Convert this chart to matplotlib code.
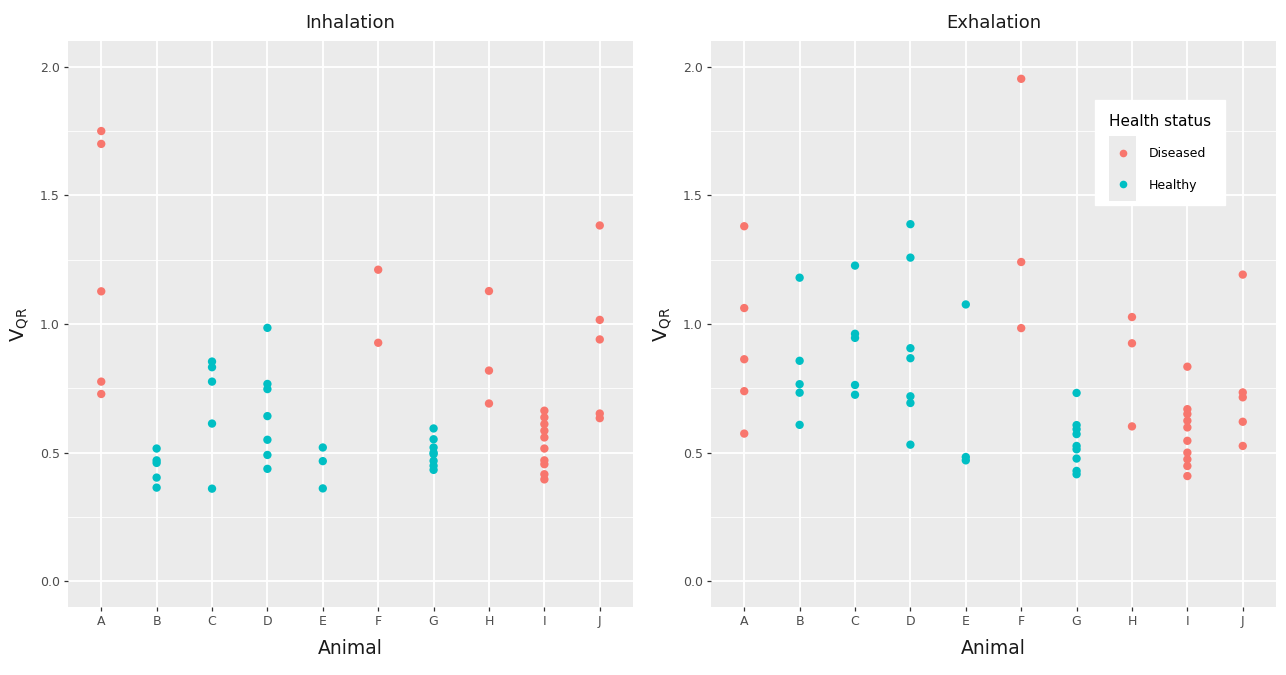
import matplotlib
matplotlib.use('Agg')
import matplotlib.pyplot as plt
from matplotlib.legend_handler import HandlerBase
from matplotlib.patches import Rectangle
from matplotlib.lines import Line2D
import numpy as np

# animals and their health status
animals = ['A', 'B', 'C', 'D', 'E', 'F', 'G', 'H', 'I', 'J']
status = ['Diseased', 'Healthy', 'Healthy', 'Healthy', 'Healthy',
          'Diseased', 'Healthy', 'Diseased', 'Diseased', 'Diseased']

# V_QR values read per animal, inhalation
inhal_values = [
    [1.75, 1.70, 1.127, 0.776, 0.728],
    [0.516, 0.47, 0.46, 0.403, 0.364],
    [0.854, 0.832, 0.776, 0.613, 0.36],
    [0.985, 0.767, 0.747, 0.642, 0.55, 0.491, 0.437],
    [0.52, 0.467, 0.361],
    [1.211, 0.927],
    [0.594, 0.552, 0.52, 0.50, 0.494, 0.468, 0.449, 0.433],
    [1.128, 0.819, 0.691],
    [0.663, 0.637, 0.611, 0.585, 0.559, 0.516, 0.47, 0.455, 0.416, 0.396],
    [1.383, 1.016, 0.94, 0.652, 0.634],
]

# exhalation
exhal_values = [
    [1.38, 1.062, 0.863, 0.739, 0.574],
    [1.18, 0.857, 0.766, 0.733, 0.608],
    [1.227, 0.962, 0.946, 0.763, 0.725],
    [1.388, 1.258, 0.906, 0.867, 0.719, 0.693, 0.531],
    [1.076, 0.483, 0.47],
    [1.953, 1.241, 0.984],
    [0.732, 0.607, 0.591, 0.572, 0.526, 0.513, 0.477, 0.429, 0.416],
    [1.027, 0.925, 0.602],
    [0.834, 0.669, 0.65, 0.624, 0.598, 0.546, 0.50, 0.474, 0.448, 0.409],
    [1.192, 0.734, 0.715, 0.62, 0.526],
]

colors = {'Diseased': '#F8766D', 'Healthy': '#00BFC4'}

W, H = 1286, 675
fig = plt.figure(figsize=(W / 100, H / 100), dpi=100)
fig.patch.set_facecolor('white')


class KeyHandler(HandlerBase):
    # ggplot-like key: grey square with a dot in the middle
    def create_artists(self, legend, orig_handle, xdescent, ydescent,
                       width, height, fontsize, trans):
        cx = width / 2 - xdescent
        cy = height / 2 - ydescent
        bh = height + legend.labelspacing * fontsize + 2
        bg = Rectangle((cx - width / 2, cy - bh / 2), width, bh,
                       facecolor='#EBEBEB', edgecolor='none', transform=trans)
        dot = Line2D([cx], [cy], marker='o', linestyle='none', markersize=5.5,
                     markerfacecolor=orig_handle.get_facecolor()[0],
                     markeredgecolor='none', transform=trans)
        return [bg, dot]


def px_axes(left, top, width, height):
    return fig.add_axes([left / W, (H - top - height) / H, width / W, height / H])


def draw_panel(ax, values, title):
    ax.set_facecolor('#EBEBEB')
    x = np.arange(1, len(animals) + 1)
    handles = []
    for grp in ['Diseased', 'Healthy']:
        xs, ys = [], []
        for i, vals in enumerate(values):
            if status[i] == grp:
                xs += [x[i]] * len(vals)
                ys += vals
        handles.append(ax.scatter(xs, ys, s=36, color=colors[grp],
                                  edgecolors='none', label=grp, zorder=3))
    ax.set_xlim(0.4, 10.6)
    ax.set_ylim(-0.1, 2.1)
    ax.set_xticks(x)
    ax.set_xticklabels(animals)
    ax.set_yticks([0.0, 0.5, 1.0, 1.5, 2.0])
    ax.set_yticklabels(['0.0', '0.5', '1.0', '1.5', '2.0'])
    ax.set_yticks([0.25, 0.75, 1.25, 1.75], minor=True)
    ax.grid(which='major', color='white', linewidth=1.3, zorder=0)
    ax.grid(which='minor', axis='y', color='white', linewidth=0.6, zorder=0)
    ax.set_axisbelow(True)
    for sp in ax.spines.values():
        sp.set_visible(False)
    ax.tick_params(which='major', length=3, width=0.9, color='#333333',
                   labelsize=9, labelcolor='#4D4D4D', pad=3)
    ax.tick_params(which='minor', length=0)
    ax.set_title(title, fontsize=13, color='#1A1A1A', pad=9)
    ax.set_xlabel('Animal', fontsize=13.5, color='#1A1A1A', labelpad=8)
    ax.set_ylabel(r'$\mathregular{V_{QR}}$', fontsize=14, color='#1A1A1A',
                  labelpad=6)
    return handles


ax1 = px_axes(68, 41, 565, 566)
draw_panel(ax1, inhal_values, 'Inhalation')

ax2 = px_axes(711, 41, 565, 566)
hs = draw_panel(ax2, exhal_values, 'Exhalation')

leg = ax2.legend(handles=hs, title='Health status', loc='upper left',
                 bbox_to_anchor=(0.68, 0.896), frameon=True, fontsize=9,
                 title_fontsize=11, handletextpad=1.0, labelspacing=1.4,
                 borderpad=1.1, handlelength=2.2, handleheight=1.3,
                 borderaxespad=0,
                 handler_map={type(hs[0]): KeyHandler()})
leg.get_frame().set_facecolor('white')
leg.get_frame().set_edgecolor('white')
leg.get_frame().set_alpha(1)
leg.get_frame().set_boxstyle('square', pad=0)
leg._legend_box.align = 'left'

fig.savefig('out.png', dpi=100, facecolor='white')
